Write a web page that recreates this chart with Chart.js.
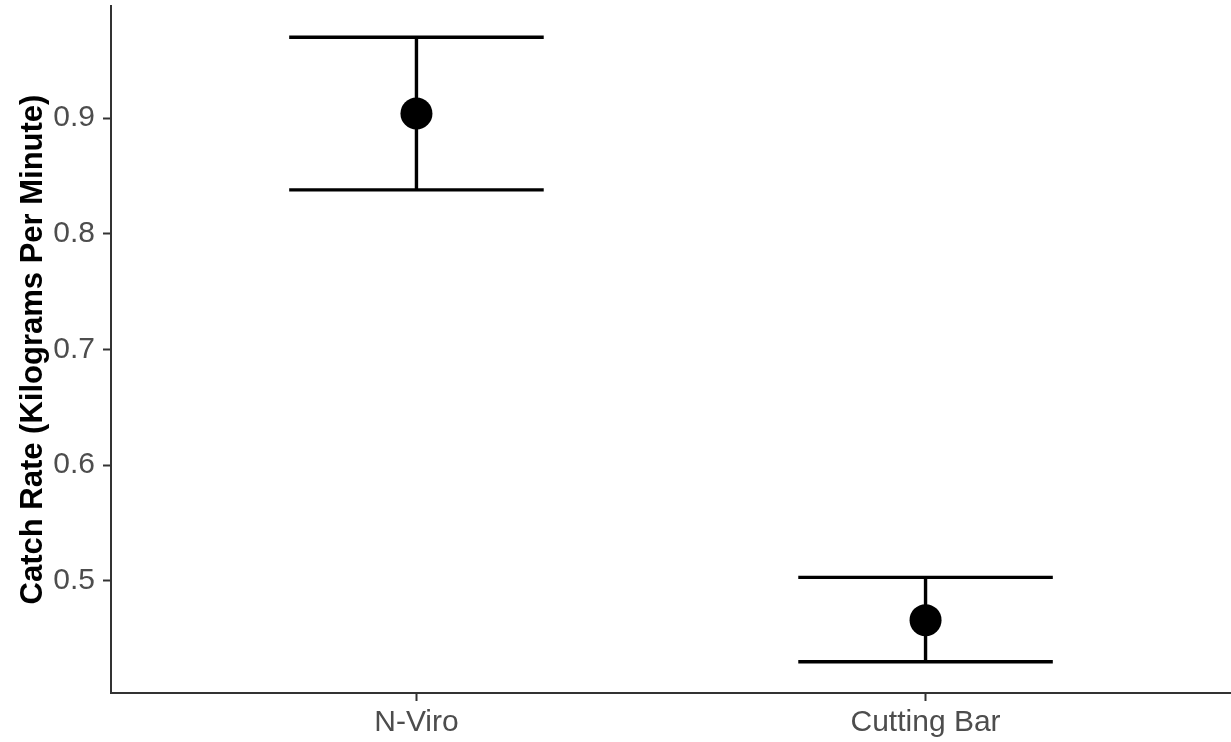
<!DOCTYPE html>
<html>
<head>
<meta charset="utf-8">
<script src="https://cdn.jsdelivr.net/npm/chart.js@4"></script>
<style>
  html, body { margin: 0; padding: 0; background: #ffffff; }
  #wrap { width: 1231px; height: 742px; position: relative; }
</style>
</head>
<body>
<div id="wrap"><canvas id="chart"></canvas></div>
<script>
// Catch rate per gear type: mean with lower / upper interval limits
const categories = ["N-Viro", "Cutting Bar"];
const meanRate  = [0.904, 0.466];
const lowerRate = [0.838, 0.430];
const upperRate = [0.970, 0.503];
const yTicks = [0.5, 0.6, 0.7, 0.8, 0.9];
const yTickLabels = ["0.5", "0.6", "0.7", "0.8", "0.9"];
const yTitle = "Catch Rate (Kilograms Per Minute)";

const capHalf = 0.25;
const ink = "#000000";
const lineW = 3.4;

const datasets = [];
categories.forEach((c, i) => {
  // vertical interval line
  datasets.push({ type: "line", data: [{x: i, y: lowerRate[i]}, {x: i, y: upperRate[i]}],
    borderColor: ink, borderWidth: lineW, pointRadius: 0, borderCapStyle: "butt" });
  // upper cap
  datasets.push({ type: "line", data: [{x: i - capHalf, y: upperRate[i]}, {x: i + capHalf, y: upperRate[i]}],
    borderColor: ink, borderWidth: lineW, pointRadius: 0, borderCapStyle: "butt" });
  // lower cap
  datasets.push({ type: "line", data: [{x: i - capHalf, y: lowerRate[i]}, {x: i + capHalf, y: lowerRate[i]}],
    borderColor: ink, borderWidth: lineW, pointRadius: 0, borderCapStyle: "butt" });
});
// mean points
datasets.push({ type: "scatter", data: meanRate.map((v, i) => ({x: i, y: v})),
  backgroundColor: ink, borderColor: ink, pointRadius: 16, borderWidth: 0 });

// keep the plot area flush with the axis box (no extra room for edge labels)
const noEdgePadding = s => { s.paddingTop = 0; s.paddingBottom = 0; s.paddingLeft = 0; s.paddingRight = 0; };

new Chart(document.getElementById("chart"), {
  data: { datasets },
  options: {
    responsive: true,
    maintainAspectRatio: false,
    animation: false,
    layout: { autoPadding: false, padding: { top: 6, right: 0, left: 0, bottom: 0 } },
    plugins: { legend: { display: false }, tooltip: { enabled: false } },
    scales: {
      x: {
        type: "linear",
        min: -0.6, max: 1.6,
        afterBuildTicks: s => { s.ticks = categories.map((c, i) => ({ value: i })); },
        afterFit: s => { s.height = 49; noEdgePadding(s); },
        border: { display: true, color: "#333333", width: 2 },
        grid: { display: true, drawOnChartArea: false, drawTicks: true, tickLength: 8, tickColor: "#333333", tickWidth: 2 },
        ticks: {
          color: "#4D4D4D",
          padding: 4,
          maxRotation: 0,
          font: { family: "Liberation Sans, Arial, sans-serif", size: 30 },
          callback: v => categories[v] ?? ""
        }
      },
      y: {
        type: "linear",
        min: 0.403, max: 0.997,
        afterBuildTicks: s => { s.ticks = yTicks.map(v => ({ value: v })); },
        afterFit: s => { s.width = 111; noEdgePadding(s); },
        border: { display: true, color: "#333333", width: 2 },
        grid: { display: true, drawOnChartArea: false, drawTicks: true, tickLength: 8, tickColor: "#333333", tickWidth: 2 },
        ticks: {
          color: "#4D4D4D",
          padding: 8,
          font: { family: "Liberation Sans, Arial, sans-serif", size: 30 },
          callback: (v) => { const k = yTicks.indexOf(v); return k >= 0 ? yTickLabels[k] : ""; }
        },
        title: {
          display: true,
          text: yTitle,
          color: "#000000",
          padding: { top: 18, bottom: 0 },
          font: { family: "Liberation Sans, Arial, sans-serif", size: 31, weight: "bold", lineHeight: 1 }
        }
      }
    }
  }
});
</script>
</body>
</html>
